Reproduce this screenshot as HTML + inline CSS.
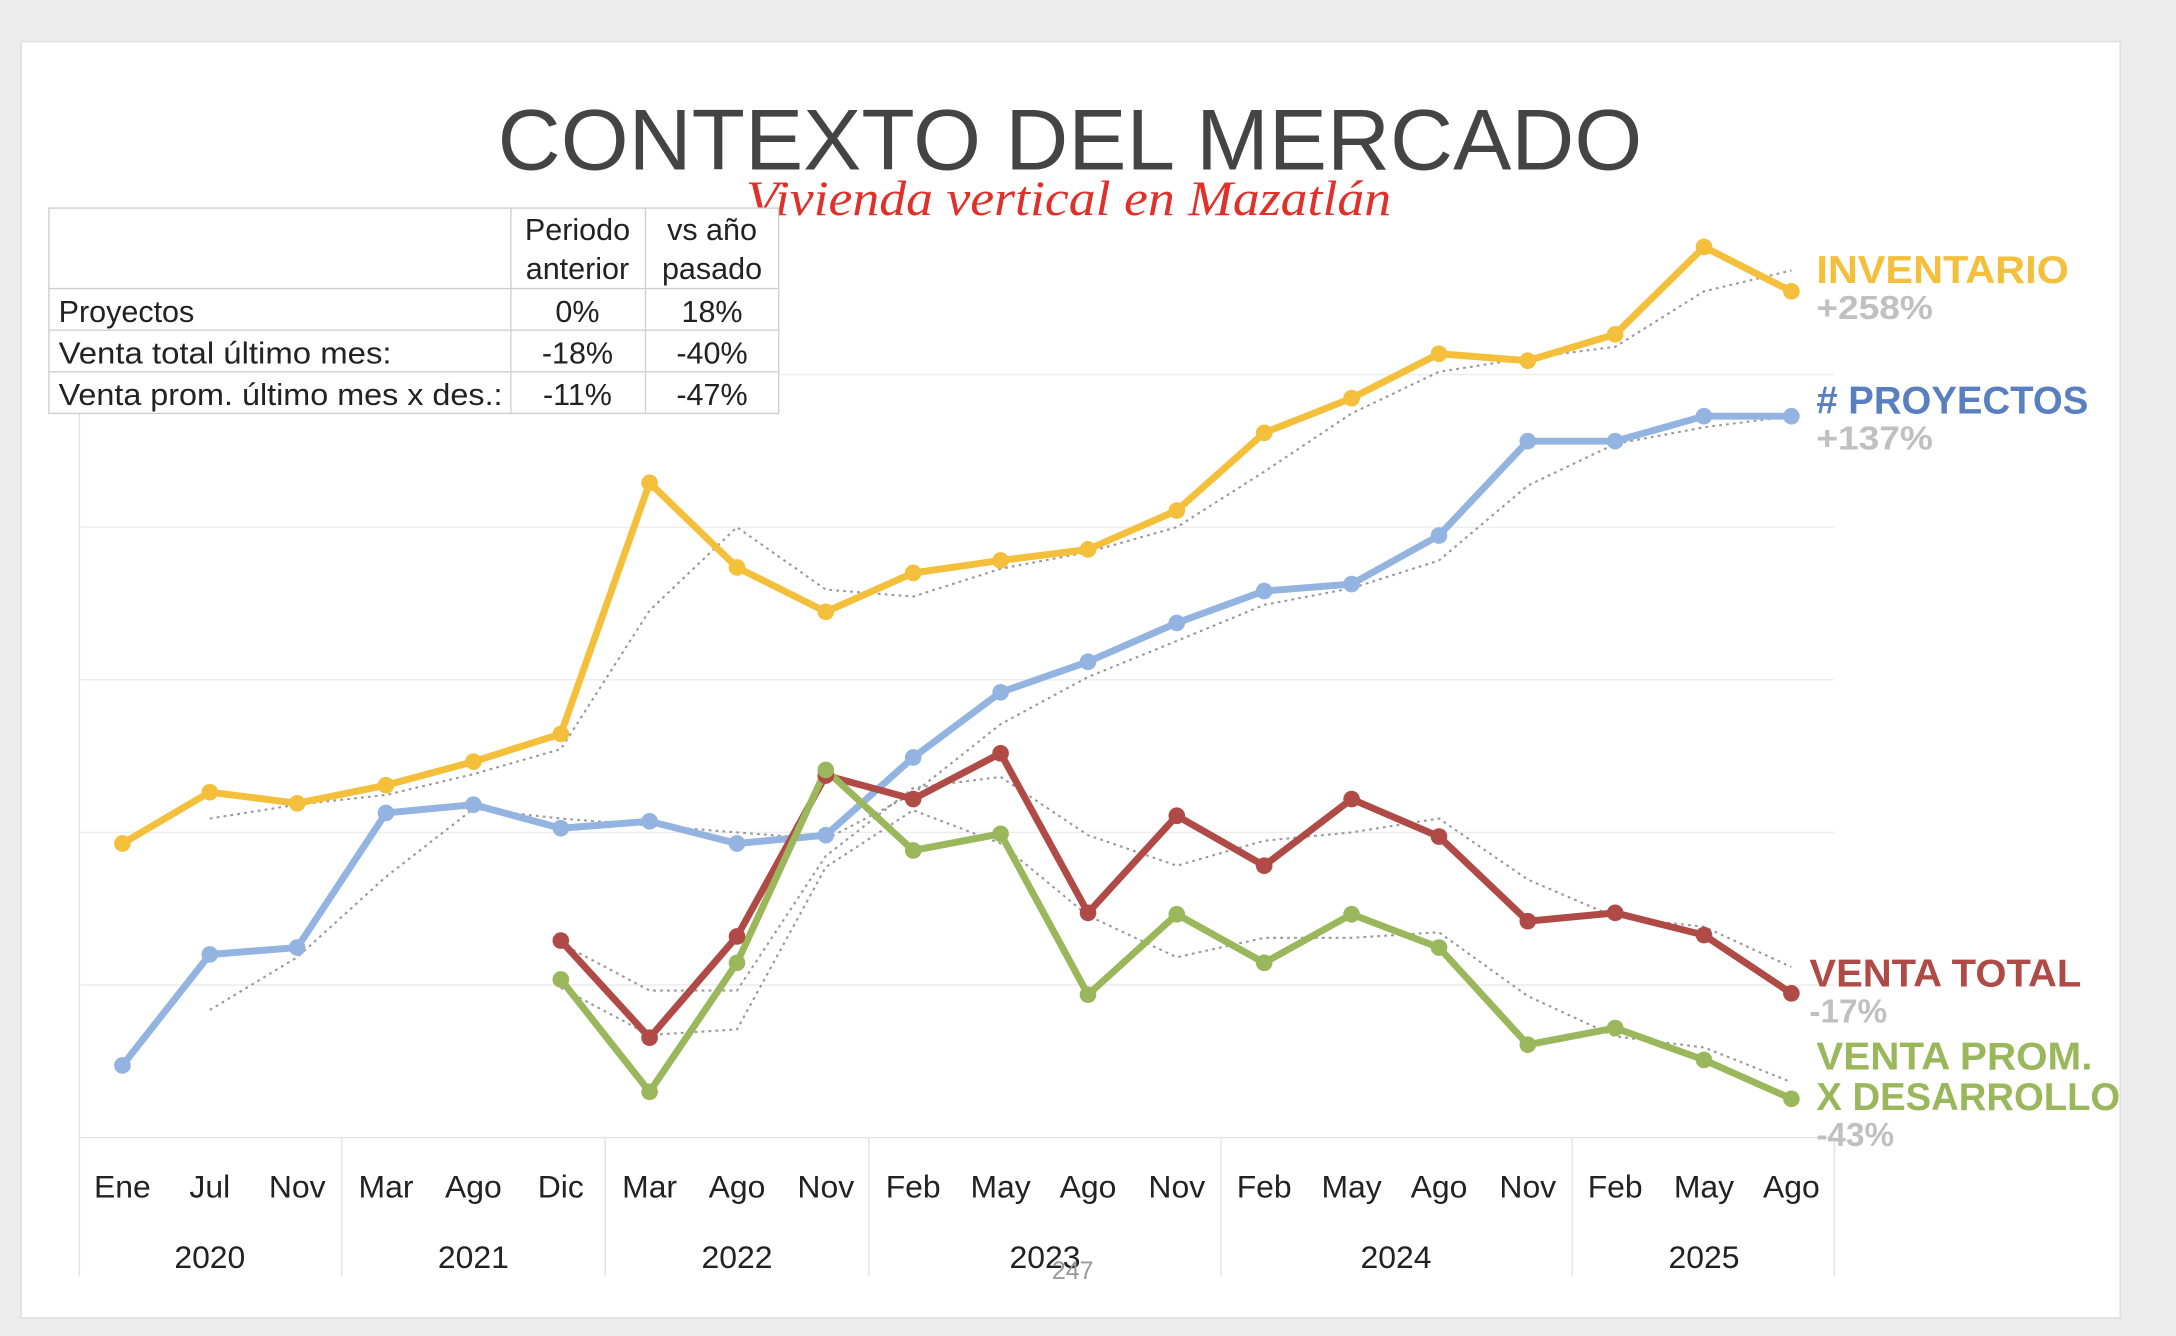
<!DOCTYPE html>
<html><head><meta charset="utf-8"><style>
html,body{margin:0;padding:0;background:#ececec;}
svg{display:block;}
</style></head><body>
<svg width="2176" height="1336" viewBox="0 0 1568 963" xmlns="http://www.w3.org/2000/svg" font-family="'Liberation Sans', sans-serif">
<rect x="0" y="0" width="1568" height="963" fill="#ececec"/>
<rect x="15" y="30" width="1513" height="920" fill="#fff" stroke="#ddd"/>
<g stroke="#ececec" stroke-width="1">
<line x1="57" y1="270" x2="1322" y2="270"/><line x1="57" y1="380" x2="1322" y2="380"/>
<line x1="57" y1="490" x2="1322" y2="490"/><line x1="57" y1="600" x2="1322" y2="600"/>
<line x1="57" y1="710" x2="1322" y2="710"/>
</g>
<g stroke="#e2e2e2" stroke-width="1">
<line x1="57" y1="820" x2="1322" y2="820"/>
<line x1="57" y1="160" x2="57" y2="920"/><line x1="1322" y1="820" x2="1322" y2="920"/>
<line x1="246" y1="820" x2="246" y2="920"/><line x1="436" y1="820" x2="436" y2="920"/>
<line x1="626" y1="820" x2="626" y2="920"/><line x1="880" y1="820" x2="880" y2="920"/>
<line x1="1133" y1="820" x2="1133" y2="920"/>
</g>
<text x="771" y="122" text-anchor="middle" font-size="62" fill="#444" textLength="825" lengthAdjust="spacingAndGlyphs" style="font-family:'DejaVu Sans ExtraLight','Liberation Sans',sans-serif;font-weight:200">CONTEXTO DEL MERCADO</text>
<text x="770" y="155" text-anchor="middle" font-size="36" font-style="italic" fill="#e0302a" font-family="'Liberation Serif', serif" textLength="465" lengthAdjust="spacingAndGlyphs">Vivienda vertical en Mazatlán</text>

<g font-size="23" fill="#222">
<text x="88" y="863" text-anchor="middle">Ene</text><text x="151" y="863" text-anchor="middle">Jul</text><text x="214" y="863" text-anchor="middle">Nov</text>
<text x="278" y="863" text-anchor="middle">Mar</text><text x="341" y="863" text-anchor="middle">Ago</text><text x="404" y="863" text-anchor="middle">Dic</text>
<text x="468" y="863" text-anchor="middle">Mar</text><text x="531" y="863" text-anchor="middle">Ago</text><text x="595" y="863" text-anchor="middle">Nov</text>
<text x="658" y="863" text-anchor="middle">Feb</text><text x="721" y="863" text-anchor="middle">May</text><text x="784" y="863" text-anchor="middle">Ago</text>
<text x="848" y="863" text-anchor="middle">Nov</text><text x="911" y="863" text-anchor="middle">Feb</text><text x="974" y="863" text-anchor="middle">May</text>
<text x="1037" y="863" text-anchor="middle">Ago</text><text x="1101" y="863" text-anchor="middle">Nov</text><text x="1164" y="863" text-anchor="middle">Feb</text>
<text x="1228" y="863" text-anchor="middle">May</text><text x="1291" y="863" text-anchor="middle">Ago</text>
<text x="151" y="914" text-anchor="middle">2020</text><text x="341" y="914" text-anchor="middle">2021</text>
<text x="531" y="914" text-anchor="middle">2022</text><text x="753" y="914" text-anchor="middle">2023</text>
<text x="1006" y="914" text-anchor="middle">2024</text><text x="1228" y="914" text-anchor="middle">2025</text>
</g>
<text x="773" y="922" text-anchor="middle" font-size="18" fill="#999">247</text>

<g fill="none" stroke="#999" stroke-width="1.5" stroke-dasharray="2,3">
<polyline points="151,590 214,580 278,573 341,558 404,540 468,440 531,380 595,425 658,430 721,410 784,398 848,380 911,340 974,298 1037,268 1101,258 1164,250 1228,210 1291,195"/>
<polyline points="151,728 214,690 278,632 341,583 404,590 468,595 531,600 595,605 658,572 721,522 784,488 848,462 911,436 974,424 1037,404 1101,350 1164,320 1228,308 1291,300"/>
<polyline points="404,680 468,714 531,714 595,617 658,568 721,560 784,602 848,624 911,606 974,600 1037,590 1101,634 1164,661 1228,668 1291,697"/>
<polyline points="404,712 468,746 531,742 595,625 658,584 721,608 784,660 848,690 911,676 974,676 1037,672 1101,718 1164,747 1228,755 1291,780"/>
</g>

<g fill="none" stroke-width="5" stroke-linejoin="round">
<polyline stroke="#f4c03c" points="88,608 151,571 214,579 278,566 341,549 404,529 468,348 531,409 595,441 658,413 721,404 784,396 848,368 911,312 974,287 1037,255 1101,260 1164,241 1228,178 1291,210"/>
<polyline stroke="#93b3e0" points="88,768 151,688 214,683 278,586 341,580 404,597 468,592 531,608 595,602 658,546 721,499 784,477 848,449 911,426 974,421 1037,386 1101,318 1164,318 1228,300 1291,300"/>
<polyline stroke="#b04a46" points="404,678 468,748 531,675 595,559 658,576 721,543 784,658 848,588 911,624 974,576 1037,603 1101,664 1164,658 1228,674 1291,716"/>
<polyline stroke="#9ab75c" points="404,706 468,787 531,694 595,555 658,613 721,601 784,717 848,659 911,694 974,659 1037,683 1101,753 1164,741 1228,764 1291,792"/>
</g>
<g fill="#f4c03c"><circle cx="88" cy="608" r="6"/><circle cx="151" cy="571" r="6"/><circle cx="214" cy="579" r="6"/><circle cx="278" cy="566" r="6"/><circle cx="341" cy="549" r="6"/><circle cx="404" cy="529" r="6"/><circle cx="468" cy="348" r="6"/><circle cx="531" cy="409" r="6"/><circle cx="595" cy="441" r="6"/><circle cx="658" cy="413" r="6"/><circle cx="721" cy="404" r="6"/><circle cx="784" cy="396" r="6"/><circle cx="848" cy="368" r="6"/><circle cx="911" cy="312" r="6"/><circle cx="974" cy="287" r="6"/><circle cx="1037" cy="255" r="6"/><circle cx="1101" cy="260" r="6"/><circle cx="1164" cy="241" r="6"/><circle cx="1228" cy="178" r="6"/><circle cx="1291" cy="210" r="6"/></g>
<g fill="#93b3e0"><circle cx="88" cy="768" r="6"/><circle cx="151" cy="688" r="6"/><circle cx="214" cy="683" r="6"/><circle cx="278" cy="586" r="6"/><circle cx="341" cy="580" r="6"/><circle cx="404" cy="597" r="6"/><circle cx="468" cy="592" r="6"/><circle cx="531" cy="608" r="6"/><circle cx="595" cy="602" r="6"/><circle cx="658" cy="546" r="6"/><circle cx="721" cy="499" r="6"/><circle cx="784" cy="477" r="6"/><circle cx="848" cy="449" r="6"/><circle cx="911" cy="426" r="6"/><circle cx="974" cy="421" r="6"/><circle cx="1037" cy="386" r="6"/><circle cx="1101" cy="318" r="6"/><circle cx="1164" cy="318" r="6"/><circle cx="1228" cy="300" r="6"/><circle cx="1291" cy="300" r="6"/></g>
<g fill="#b04a46"><circle cx="404" cy="678" r="6"/><circle cx="468" cy="748" r="6"/><circle cx="531" cy="675" r="6"/><circle cx="595" cy="559" r="6"/><circle cx="658" cy="576" r="6"/><circle cx="721" cy="543" r="6"/><circle cx="784" cy="658" r="6"/><circle cx="848" cy="588" r="6"/><circle cx="911" cy="624" r="6"/><circle cx="974" cy="576" r="6"/><circle cx="1037" cy="603" r="6"/><circle cx="1101" cy="664" r="6"/><circle cx="1164" cy="658" r="6"/><circle cx="1228" cy="674" r="6"/><circle cx="1291" cy="716" r="6"/></g>
<g fill="#9ab75c"><circle cx="404" cy="706" r="6"/><circle cx="468" cy="787" r="6"/><circle cx="531" cy="694" r="6"/><circle cx="595" cy="555" r="6"/><circle cx="658" cy="613" r="6"/><circle cx="721" cy="601" r="6"/><circle cx="784" cy="717" r="6"/><circle cx="848" cy="659" r="6"/><circle cx="911" cy="694" r="6"/><circle cx="974" cy="659" r="6"/><circle cx="1037" cy="683" r="6"/><circle cx="1101" cy="753" r="6"/><circle cx="1164" cy="741" r="6"/><circle cx="1228" cy="764" r="6"/><circle cx="1291" cy="792" r="6"/></g>

<g font-weight="bold" font-size="28">
<text x="1309" y="204" fill="#f4c03c" textLength="182" lengthAdjust="spacingAndGlyphs">INVENTARIO</text>
<text x="1309" y="230" fill="#c0c0c0" font-size="24" textLength="84" lengthAdjust="spacingAndGlyphs">+258%</text>
<text x="1309" y="298" fill="#5a7fc0" textLength="196" lengthAdjust="spacingAndGlyphs"># PROYECTOS</text>
<text x="1309" y="324" fill="#c0c0c0" font-size="24" textLength="84" lengthAdjust="spacingAndGlyphs">+137%</text>
<text x="1304" y="711" fill="#b04a46" textLength="196" lengthAdjust="spacingAndGlyphs">VENTA TOTAL</text>
<text x="1304" y="737" fill="#c0c0c0" font-size="24">-17%</text>
<text x="1309" y="771" fill="#9ab75c" textLength="199" lengthAdjust="spacingAndGlyphs">VENTA PROM.</text>
<text x="1309" y="800" fill="#9ab75c" textLength="219" lengthAdjust="spacingAndGlyphs">X DESARROLLO</text>
<text x="1309" y="826" fill="#c0c0c0" font-size="24">-43%</text>
</g>

<g stroke="#cfcfcf" stroke-width="1" fill="none">
<rect x="35" y="150" width="526" height="148" fill="#fff"/>
<line x1="35" y1="208" x2="561" y2="208"/><line x1="35" y1="238" x2="561" y2="238"/><line x1="35" y1="268" x2="561" y2="268"/>
<line x1="368" y1="150" x2="368" y2="298"/><line x1="465" y1="150" x2="465" y2="298"/>
</g>
<g font-size="22" fill="#222">
<text x="416" y="173" text-anchor="middle">Periodo</text><text x="416" y="201" text-anchor="middle">anterior</text>
<text x="513" y="173" text-anchor="middle">vs año</text><text x="513" y="201" text-anchor="middle">pasado</text>
<text x="42" y="232">Proyectos</text><text x="416" y="232" text-anchor="middle">0%</text><text x="513" y="232" text-anchor="middle">18%</text>
<text x="42" y="262" textLength="240" lengthAdjust="spacingAndGlyphs">Venta total último mes:</text><text x="416" y="262" text-anchor="middle">-18%</text><text x="513" y="262" text-anchor="middle">-40%</text>
<text x="42" y="292" textLength="320" lengthAdjust="spacingAndGlyphs">Venta prom. último mes x des.:</text><text x="416" y="292" text-anchor="middle">-11%</text><text x="513" y="292" text-anchor="middle">-47%</text>
</g>
</svg>
</body></html>
